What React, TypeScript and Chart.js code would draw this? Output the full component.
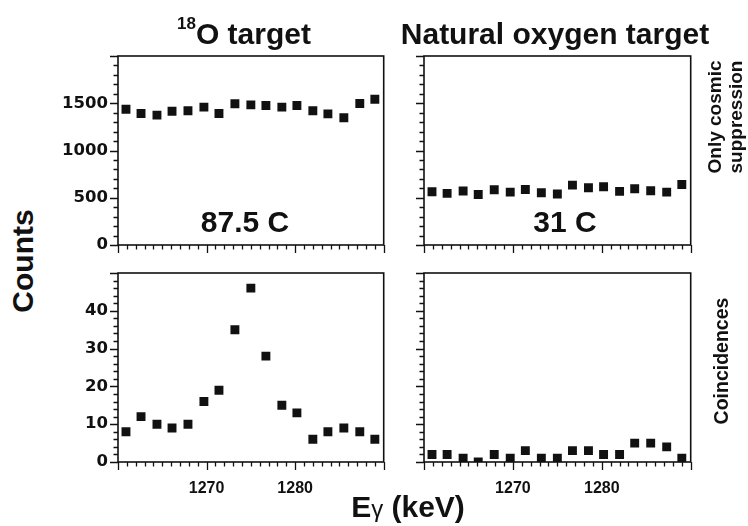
import React, { useEffect, useRef } from "react";
import { Chart, registerables } from "chart.js";

Chart.register(...registerables);

// ---- data ----
const energies = [1260.9, 1262.6, 1264.4, 1266.1, 1267.9, 1269.7, 1271.4, 1273.2, 1275.0, 1276.7, 1278.5, 1280.2, 1282.0, 1283.7, 1285.5, 1287.3, 1289.0];
const o18Cosmic = [1437, 1392, 1374, 1416, 1420, 1459, 1392, 1494, 1483, 1476, 1459, 1476, 1420, 1388, 1346, 1497, 1543];
const natCosmic = [564, 546, 571, 535, 585, 560, 588, 553, 539, 634, 606, 617, 567, 595, 574, 560, 641];
const o18Coinc = [8, 12, 10, 9, 10, 16, 19, 35, 46, 28, 15, 13, 6, 8, 9, 8, 6];
const natCoinc = [2, 2, 1, 0, 2, 1, 3, 1, 1, 3, 3, 2, 2, 5, 5, 4, 1];

const xRange = [1260, 1290];
const xTickLabels = [1270, 1280];
const xMinorStep = 1;
const yTopRange = [0, 2000];
const yTopTickLabels = [0, 500, 1000, 1500];
const yTopMinorStep = 100;
const yBotRange = [0, 50];
const yBotTickLabels = [0, 10, 20, 30, 40];
const yBotMinorStep = 2;

const INK = "#111111";

type PanelCfg = {
  values: number[];
  yRange: number[];
  yLabels: number[];
  yMinor: number;
  showY: boolean;
  showX: boolean;
  yAxisW: number;
  xAxisH: number;
  padTop: number;
  padRight: number;
};

const framePlugin = {
  id: "frameTicks",
  afterDraw(chart: any, _args: any, opts: any) {
    const { ctx, chartArea } = chart;
    const xs = chart.scales.x;
    const ys = chart.scales.y;
    ctx.save();
    ctx.strokeStyle = INK;
    ctx.lineWidth = 1.6;
    ctx.strokeRect(chartArea.left, chartArea.top, chartArea.right - chartArea.left, chartArea.bottom - chartArea.top);
    ctx.lineWidth = 1.3;
    ctx.beginPath();
    for (let v = ys.min; v <= ys.max + 1e-9; v += opts.yMinor) {
      const py = Math.round(ys.getPixelForValue(v)) + 0.5;
      const major = opts.yLabels.includes(v) || v === ys.max;
      const len = major ? 8 : 4.5;
      ctx.moveTo(chartArea.left, py);
      ctx.lineTo(chartArea.left - len, py);
    }
    for (let v = xs.min; v <= xs.max + 1e-9; v += xMinorStep) {
      const px = Math.round(xs.getPixelForValue(v)) + 0.5;
      const major = v % 10 === 0;
      const len = major ? 8 : 4.5;
      ctx.moveTo(px, chartArea.bottom);
      ctx.lineTo(px, chartArea.bottom + len);
    }
    ctx.stroke();
    ctx.restore();
  },
};

function zeroPad(s: any) {
  s.paddingTop = 0;
  s.paddingBottom = 0;
  s.paddingLeft = 0;
  s.paddingRight = 0;
}

function Panel(props: PanelCfg & { left: number; top: number; width: number; height: number }) {
  const ref = useRef<HTMLCanvasElement | null>(null);
  useEffect(() => {
    if (!ref.current) return;
    const p = props;
    const chart = new Chart(ref.current, {
      type: "scatter",
      data: {
        datasets: [
          {
            data: energies.map((e, i) => ({ x: e, y: p.values[i] })),
            pointStyle: "rect",
            pointRadius: 6.3,
            pointBackgroundColor: INK,
            pointBorderWidth: 0,
            pointBorderColor: INK,
            clip: 0,
          } as any,
        ],
      },
      options: {
        animation: false,
        responsive: false,
        maintainAspectRatio: false,
        events: [],
        layout: { padding: { top: p.padTop, right: p.padRight, left: 0, bottom: 0 } },
        plugins: {
          legend: { display: false },
          tooltip: { enabled: false },
          frameTicks: { yMinor: p.yMinor, yLabels: p.yLabels },
        } as any,
        scales: {
          x: {
            type: "linear",
            min: xRange[0],
            max: xRange[1],
            grid: { display: false, drawTicks: false },
            border: { display: false },
            afterBuildTicks: (s: any) => {
              s.ticks = xTickLabels.map((v) => ({ value: v }));
            },
            afterFit: (s: any) => {
              s.height = p.xAxisH;
              zeroPad(s);
            },
            ticks: {
              display: p.showX,
              padding: 17,
              color: INK,
              maxRotation: 0,
              autoSkip: false,
              font: { family: "'Liberation Sans', Arial, sans-serif", size: 16, weight: "bold" },
              callback: (v: any) => String(v),
            },
          },
          y: {
            type: "linear",
            min: p.yRange[0],
            max: p.yRange[1],
            grid: { display: false, drawTicks: false },
            border: { display: false },
            afterBuildTicks: (s: any) => {
              s.ticks = p.yLabels.map((v) => ({ value: v }));
            },
            afterFit: (s: any) => {
              s.width = p.yAxisW;
              zeroPad(s);
            },
            ticks: {
              display: p.showY,
              padding: 10,
              color: INK,
              autoSkip: false,
              font: { family: "'DejaVu Sans', sans-serif", size: 16.5, weight: "bold" },
              callback: (v: any) => String(v),
            },
          },
        },
      },
      plugins: [framePlugin],
    });
    return () => chart.destroy();
  }, []);
  return (
    <canvas
      ref={ref}
      width={props.width}
      height={props.height}
      style={{ position: "absolute", left: props.left, top: props.top, width: props.width, height: props.height }}
    />
  );
}

const txt: React.CSSProperties = {
  position: "absolute",
  fontFamily: "'Liberation Sans', Arial, sans-serif",
  fontWeight: "bold",
  color: INK,
  whiteSpace: "nowrap",
};

export default function App() {
  return (
    <div style={{ position: "absolute", left: 0, top: 0, width: 748, height: 526, background: "#fff", overflow: "hidden" }}>
      <Panel left={56} top={48} width={334} height={212} values={o18Cosmic} yRange={yTopRange} yLabels={yTopTickLabels} yMinor={yTopMinorStep} showY={true} showX={false} yAxisW={62} xAxisH={15} padTop={8} padRight={5} />
      <Panel left={380} top={48} width={317} height={212} values={natCosmic} yRange={yTopRange} yLabels={yTopTickLabels} yMinor={yTopMinorStep} showY={false} showX={false} yAxisW={44} xAxisH={15} padTop={8} padRight={5} />
      <Panel left={56} top={265} width={334} height={240} values={o18Coinc} yRange={yBotRange} yLabels={yBotTickLabels} yMinor={yBotMinorStep} showY={true} showX={true} yAxisW={62} xAxisH={43} padTop={8} padRight={5} />
      <Panel left={380} top={265} width={317} height={240} values={natCoinc} yRange={yBotRange} yLabels={yBotTickLabels} yMinor={yBotMinorStep} showY={false} showX={true} yAxisW={44} xAxisH={43} padTop={8} padRight={5} />

      <div style={{ ...txt, left: 94, top: 18.6, width: 300, textAlign: "center", fontSize: 30, lineHeight: "30px" }}>
        <span style={{ fontSize: 17, position: "relative", top: -15 }}>18</span>O target
      </div>
      <div style={{ ...txt, left: 355, top: 18.6, width: 400, textAlign: "center", fontSize: 30, lineHeight: "30px" }}>
        Natural oxygen target
      </div>
      <div style={{ ...txt, left: 145, top: 206.6, width: 200, textAlign: "center", fontSize: 30, lineHeight: "30px" }}>
        87.5 C
      </div>
      <div style={{ ...txt, left: 465, top: 206.6, width: 200, textAlign: "center", fontSize: 30, lineHeight: "30px" }}>
        31 C
      </div>
      <div style={{ ...txt, left: 22.5, top: 261, fontSize: 30, lineHeight: "30px", transform: "translate(-50%, -50%) rotate(-90deg)" }}>
        Counts
      </div>
      <div style={{ ...txt, left: 258, top: 491.6, width: 300, textAlign: "center", fontSize: 30, lineHeight: "30px" }}>
        E<span style={{ fontWeight: "normal", fontSize: 24 }}>γ</span> (keV)
      </div>
      <div style={{ ...txt, left: 725, top: 117, fontSize: 19, lineHeight: "21px", textAlign: "center", transform: "translate(-50%, -50%) rotate(-90deg)" }}>
        Only cosmic
        <br />
        suppression
      </div>
      <div style={{ ...txt, left: 721, top: 361, fontSize: 19.5, lineHeight: "21px", transform: "translate(-50%, -50%) rotate(-90deg)" }}>
        Coincidences
      </div>
    </div>
  );
}
